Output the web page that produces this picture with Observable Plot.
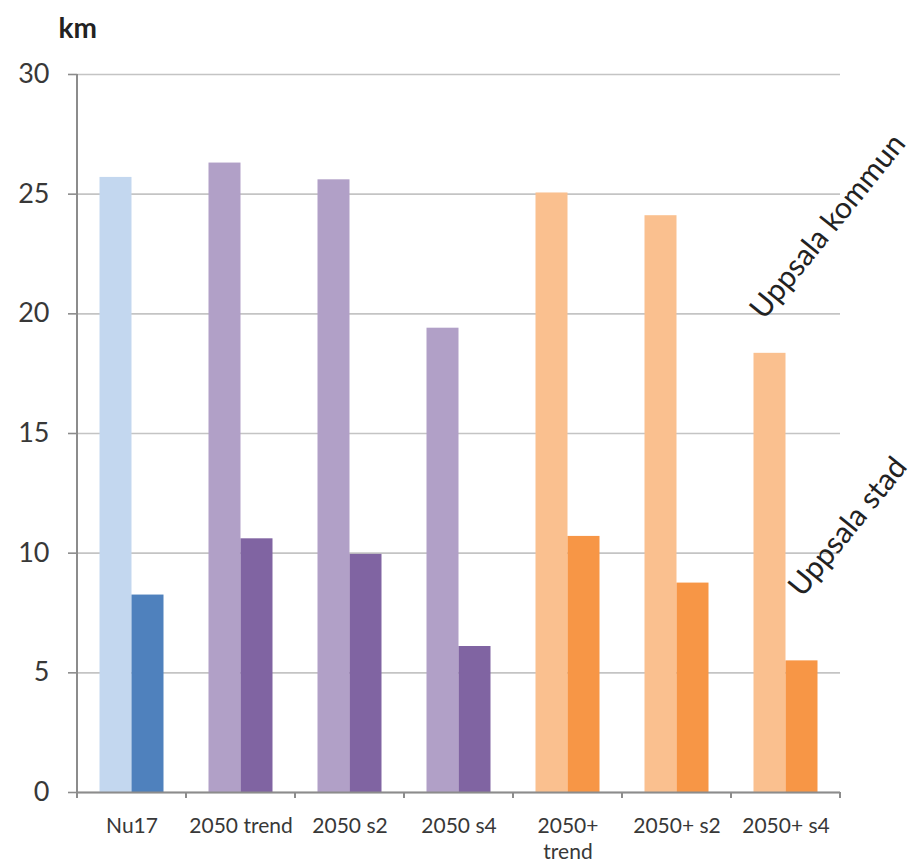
<!DOCTYPE html>
<html>
<head>
<meta charset="utf-8">
<script src="https://cdn.jsdelivr.net/npm/d3@7"></script>
<script src="https://cdn.jsdelivr.net/npm/@observablehq/plot@0.6"></script>
<style>
  html, body { margin: 0; padding: 0; background: #fff; }
  #chart svg { display: block; }
</style>
</head>
<body>
<div id="chart"></div>
<script>
// ---- data ----
const categories = ["Nu17", "2050 trend", "2050 s2", "2050 s4", "2050+ trend", "2050+ s2", "2050+ s4"];
const tickLabels = ["Nu17", "2050 trend", "2050 s2", "2050 s4", "2050+\ntrend", "2050+ s2", "2050+ s4"];
const groups = ["nu", "2050", "2050", "2050", "2050+", "2050+", "2050+"];
const kommunValues = [25.7, 26.3, 25.6, 19.4, 25.05, 24.1, 18.35];
const stadValues = [8.25, 10.6, 9.95, 6.1, 10.7, 8.75, 5.5];
const yTicks = [0, 5, 10, 15, 20, 25, 30];
const unitLabel = "km";
const kommunLabel = {label: "Uppsala kommun", category: "2050+ s4", y: 23.65};
const stadLabel = {label: "Uppsala stad", category: "2050+ s4", y: 11.1};

// ---- styles ----
const lightColors = {"nu": "#c3d7ef", "2050": "#b1a0c7", "2050+": "#fac08f"};
const darkColors = {"nu": "#4f81bd", "2050": "#8064a2", "2050+": "#f79646"};
const axisColor = "#8c8c8c";
const gridColor = "#c4c4c4";
const textColor = "#383838";

const rows = categories.map((c, i) => ({
  category: c, group: groups[i], kommun: kommunValues[i], stad: stadValues[i]
}));
const labelOf = new Map(categories.map((c, i) => [c, tickLabels[i]]));

const W = 916, H = 862;
const mL = 77, mR = 76, mT = 74, mB = 70;
const band = (W - mL - mR) / categories.length;
const barW = 32;
const outer = (band - 2 * barW) / 2;

const chart = Plot.plot({
  width: W,
  height: H,
  marginLeft: mL,
  marginRight: mR,
  marginTop: mT,
  marginBottom: mB,
  style: {fontFamily: "Lato, 'Open Sans', sans-serif", background: "#fff", color: textColor},
  x: {type: "band", domain: categories, padding: 0, axis: null, label: null},
  y: {domain: [0, 30], axis: null, label: null},
  color: {type: "identity"},
  marks: [
    Plot.gridY(yTicks, {stroke: gridColor, strokeOpacity: 1, strokeWidth: 1.6}),
    // bars
    Plot.barY(rows, {x: "category", y: "kommun", fill: d => lightColors[d.group],
      insetLeft: outer, insetRight: outer + barW}),
    Plot.barY(rows, {x: "category", y: "stad", fill: d => darkColors[d.group],
      insetLeft: outer + barW, insetRight: outer}),
    // axis lines
    Plot.ruleY([0], {stroke: axisColor, strokeWidth: 2}),
    Plot.barY([categories[0]], {x: d => d, y1: 0, y2: 30, fill: axisColor,
      insetLeft: -1, insetRight: band - 1}),
    // category boundary ticks
    Plot.barY(categories, {x: d => d, y1: 0, y2: -0.25, fill: axisColor,
      insetLeft: -1, insetRight: band - 1}),
    Plot.barY([categories[categories.length - 1]], {x: d => d, y1: 0, y2: -0.25, fill: axisColor,
      insetLeft: band - 1, insetRight: -1}),
    // y axis
    Plot.axisY(yTicks, {tickSize: 9, tickPadding: 19, stroke: axisColor, strokeWidth: 1.6,
      fill: textColor, fontSize: 27, label: null, tickFormat: d => String(d)}),
    // x axis labels
    Plot.axisX({tickSize: 0, tickPadding: 23, fontSize: 21, fill: textColor, label: null,
      lineHeight: 1.2, tickFormat: d => labelOf.get(d)}),
    // unit label
    Plot.text([unitLabel], {frameAnchor: "top-left", text: d => d, dx: -19, dy: -37,
      textAnchor: "start", lineAnchor: "bottom", fontWeight: "bold", fontSize: 28, fill: "#222"}),
    // series annotations
    Plot.text([kommunLabel], {x: "category", y: "y", text: "label", dx: 42, rotate: -51,
      textAnchor: "middle", lineAnchor: "middle", fontSize: 30, fill: "#222"}),
    Plot.text([stadLabel], {x: "category", y: "y", text: "label", dx: 62, rotate: -51,
      textAnchor: "middle", lineAnchor: "middle", fontSize: 30, fill: "#222"})
  ]
});

document.getElementById("chart").appendChild(chart);
</script>
</body>
</html>
